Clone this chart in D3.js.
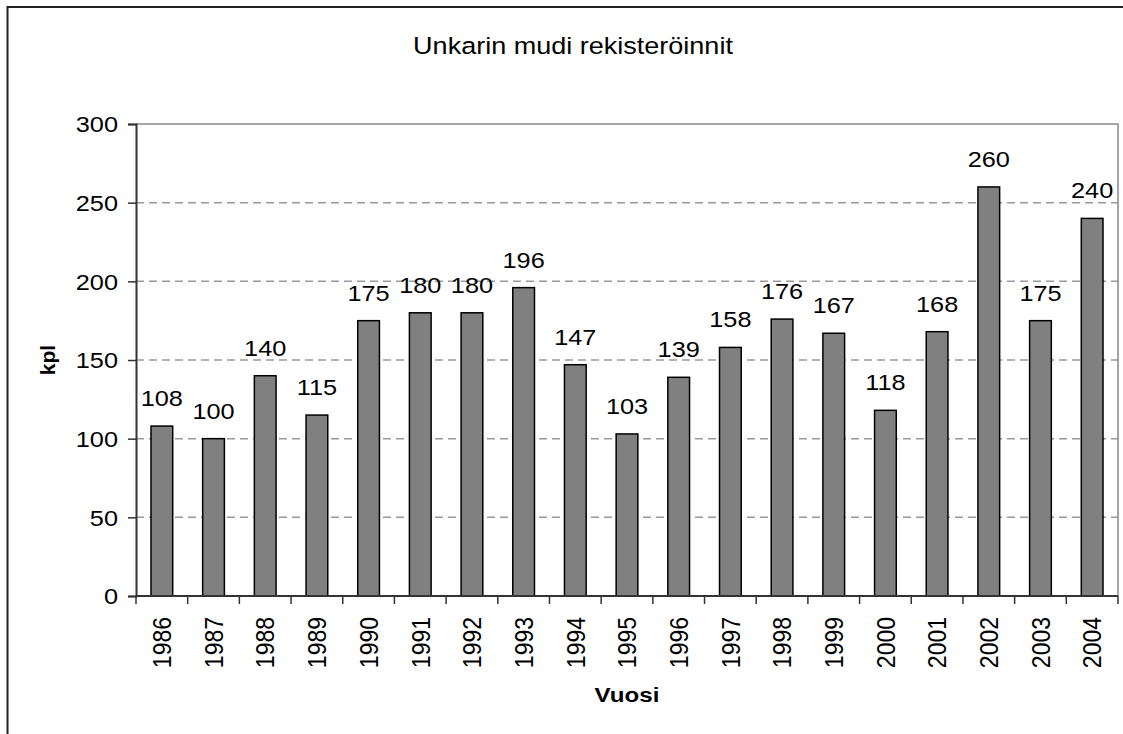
<!DOCTYPE html>
<meta charset="utf-8">
<style>
body { margin: 0; background: #fff; }
text { font-family: "Liberation Sans", Arial, sans-serif; fill: #000; }
.grid line { stroke: #999; stroke-dasharray: 8,5; stroke-width: 1.5px; }
.bar { fill: #808080; stroke: #000; stroke-width: 1.5px; }
</style>
<script src="https://cdn.jsdelivr.net/npm/d3@7"></script>
<body>
<script>

var years = ["1986", "1987", "1988", "1989", "1990", "1991", "1992", "1993", "1994", "1995",
             "1996", "1997", "1998", "1999", "2000", "2001", "2002", "2003", "2004"];
var counts = [108, 100, 140, 115, 175, 180, 180, 196, 147, 103,
              139, 158, 176, 167, 118, 168, 260, 175, 240];
var yTicks = [0, 50, 100, 150, 200, 250, 300];

var width = 1123,
    height = 734;
var sx = 1.15;  // the picture is a bit wider than tall text

var svg = d3.select("body")
              .append("svg")
              .attr("width", width)
              .attr("height", height);

// outer chart frame (right and bottom fall outside the picture)
svg.append("rect")
    .attr("x", 7.5).attr("y", 7)
    .attr("width", 1140).attr("height", 760)
    .attr("fill", "none")
    .attr("stroke", "#222")
    .attr("stroke-width", 2);

var pLeft = 136, pRight = 1118, pTop = 124, pBottom = 596;

var x = d3.scaleBand()
          .domain(years)
          .range([pLeft, pRight])
          .paddingInner(0.58)
          .paddingOuter(0.29);

var y = d3.scaleLinear()
          .domain([0, 300])
          .range([pBottom, pTop]);

// dashed grid lines
svg.append("g")
    .attr("class", "grid")
  .selectAll("line")
  .data(yTicks.filter(function(d) { return d > 0 && d < 300; }))
  .enter()
    .append("line")
      .attr("x1", pLeft).attr("x2", pRight)
      .attr("y1", function(d) { return y(d); })
      .attr("y2", function(d) { return y(d); });

// plot area border, top and right
svg.append("path")
    .attr("d", "M" + pLeft + "," + y(300) + "H" + pRight + "V" + pBottom)
    .attr("fill", "none")
    .attr("stroke", "#888")
    .attr("stroke-width", 1.5);

svg.selectAll("rect.bar")
    .data(counts)
    .enter()
      .append("rect")
        .attr("class", "bar")
        .attr("x", function(d, i) { return x(years[i]); })
        .attr("width", x.bandwidth())
        .attr("y", function(d) { return y(d); })
        .attr("height", function(d) { return y(0) - y(d); });

// value labels over the bars
svg.selectAll("text.val")
    .data(counts)
    .enter()
      .append("text")
        .attr("class", "val")
        .attr("text-anchor", "middle")
        .style("font-size", "22px")
        .attr("transform", function(d, i) {
          return "translate(" + (x(years[i]) + x.bandwidth() / 2) + "," + (y(d) - 20) + ") scale(" + sx + ",1)";
        })
        .text(function(d) { return d; });

// y axis
var yAxis = svg.append("g")
    .attr("transform", "translate(" + pLeft + ",0)")
    .call(d3.axisLeft(y).tickValues(yTicks).tickSize(8).tickPadding(10));

yAxis.select(".domain").attr("stroke", "#333").attr("stroke-width", 2);
yAxis.selectAll(".tick line").attr("stroke", "#333").attr("stroke-width", 1.5);
yAxis.selectAll(".tick text")
    .attr("x", null)
    .attr("dy", "0.35em")
    .attr("transform", "translate(-18,0) scale(" + sx + ",1)")
    .style("font-size", "22px")
    .style("font-family", "Liberation Sans, Arial, sans-serif")
    .attr("fill", "#000");

// x axis line and ticks between categories
var step = x.step();
var bounds = years.map(function(d) { return x(d) - (step - x.bandwidth()) / 2; }).concat([pRight]);

svg.append("line")
    .attr("x1", pLeft).attr("x2", pRight)
    .attr("y1", pBottom).attr("y2", pBottom)
    .attr("stroke", "#333")
    .attr("stroke-width", 2);

svg.selectAll("line.xtick")
    .data(bounds)
    .enter()
      .append("line")
        .attr("class", "xtick")
        .attr("x1", function(d) { return d; })
        .attr("x2", function(d) { return d; })
        .attr("y1", pBottom).attr("y2", pBottom + 8)
        .attr("stroke", "#333")
        .attr("stroke-width", 1.5);

svg.selectAll("text.year")
    .data(years)
    .enter()
      .append("text")
        .attr("class", "year")
        .attr("text-anchor", "end")
        .attr("dy", "0.35em")
        .style("font-size", "23px")
        .attr("transform", function(d) {
          return "translate(" + (x(d) + x.bandwidth() / 2) + "," + (pBottom + 21) + ") scale(" + sx + ",1) rotate(-90)";
        })
        .text(function(d) { return d; });

// titles
svg.append("text")
    .attr("text-anchor", "middle")
    .style("font-size", "23.5px")
    .attr("transform", "translate(573,54) scale(" + sx + ",1)")
    .text("Unkarin mudi rekisteröinnit");

svg.append("text")
    .attr("text-anchor", "middle")
    .style("font-size", "21px")
    .style("font-weight", "bold")
    .attr("transform", "translate(627,702) scale(" + sx + ",1)")
    .text("Vuosi");

svg.append("text")
    .attr("text-anchor", "middle")
    .attr("dy", "0.35em")
    .style("font-size", "21px")
    .style("font-weight", "bold")
    .attr("transform", "translate(48,360) rotate(-90)")
    .text("kpl");

</script>
</body>
